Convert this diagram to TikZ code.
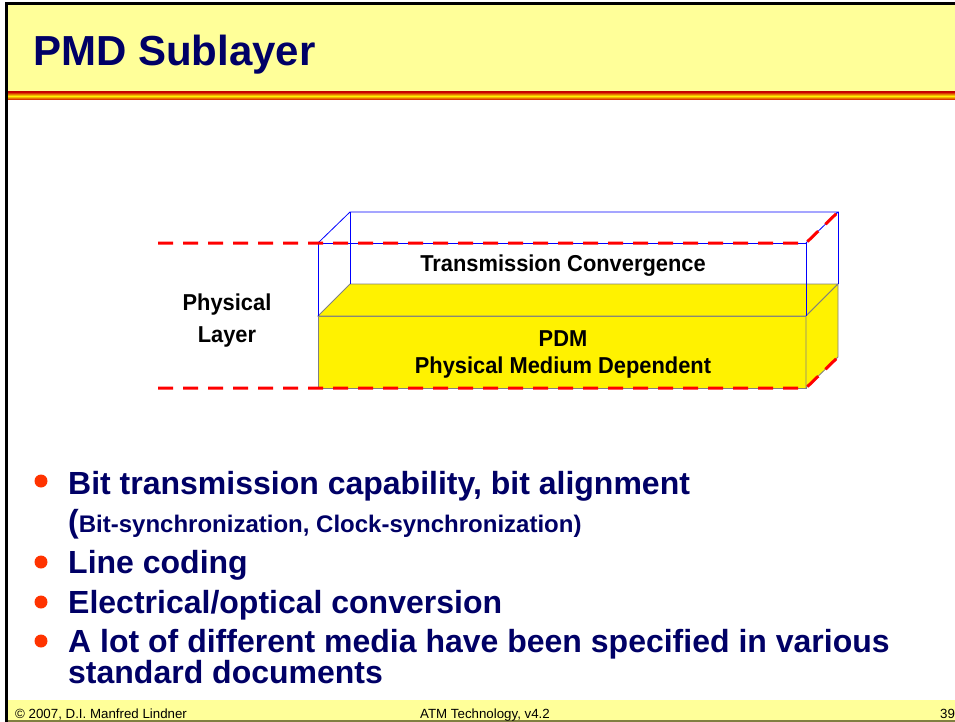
\documentclass[tikz,border=0pt]{standalone}
\usepackage{fontspec}
\setmainfont{Liberation Sans}
\newfontfamily\narrowfont[FakeStretch=0.95]{Liberation Sans}
\usetikzlibrary{positioning}
\definecolor{slideyellow}{HTML}{FFFF99}
\definecolor{titleblue}{HTML}{000066}
\definecolor{bulletred}{HTML}{FF3300}
\definecolor{footline}{HTML}{808040}
\newcommand{\ptsize}[1]{\fontsize{#1}{#1}\selectfont}

\begin{document}
\begin{tikzpicture}[x=1pt,y=-1pt]
  \tikzset{
    pointtext/.style={anchor=base west,inner sep=0pt,text=titleblue,font=\ptsize{32}\bfseries},
    bulletdot/.style={circle,fill=bulletred,minimum size=13pt,inner sep=0pt},
    boxtext/.style={align=center,anchor=base,inner sep=0pt,font=\narrowfont\bfseries\fontsize{23}{27}\selectfont},
    foottext/.style={anchor=base west,inner sep=0pt,font=\ptsize{13.3}},
    layerline/.style={red,line width=3pt,dash pattern=on 15pt off 10pt},
    tcedge/.style={blue,line width=0.8pt},
    pdmface/.style={fill=yellow,draw=gray,line width=0.8pt}
  }
  \useasboundingbox (0,0) rectangle (955,722);
  % slide frame
  \fill[slideyellow] (5,5) rectangle (955,92);
  \shade[top color=red!80!black,bottom color=red!80!black,middle color=yellow!90!orange] (5,92) rectangle (955,100);
  \fill[slideyellow] (5,700) rectangle (955,720);
  \draw[footline,line width=2pt] (5,721) -- (955,721);
  \draw[line width=3pt] (955,3.5) -- (6,3.5) -- (6,722);
  \node[anchor=base west,inner sep=0pt,text=titleblue,font=\ptsize{42}\bfseries] (title) at (33,66) {PMD Sublayer};

  % the two sublayers
  \coordinate (tcfl) at (318,243);
  \coordinate (tcfr) at (806,243);
  \coordinate (tcbl) at (350,212);
  \coordinate (tcbr) at (838,212);
  \coordinate (mfl) at (318,316);
  \coordinate (mfr) at (806,316);
  \coordinate (mbl) at (350,284);
  \coordinate (mbr) at (838,284);
  \coordinate (bfl) at (318,388);
  \coordinate (bfr) at (806,388);
  \coordinate (bbr) at (838,357);
  \draw[pdmface] (mfl) rectangle (bfr);
  \draw[pdmface] (mfl) -- (mbl) -- (mbr) -- (mfr) -- cycle;
  \draw[pdmface] (mfr) -- (mbr) -- (bbr) -- (bfr) -- cycle;
  \draw[tcedge] (mfl) -- (tcfl) -- (tcfr) -- (mfr);
  \draw[tcedge] (tcfl) -- (tcbl) -- (tcbr) -- (tcfr);
  \draw[tcedge] (tcbl) -- (mbl);
  \draw[tcedge] (tcbr) -- (mbr);
  \node[boxtext] (tc) at (563,271) {Transmission Convergence};
  \node[boxtext] (pdm) at (563,373) {PDM\\Physical Medium Dependent};
  \node[boxtext,font=\narrowfont\bfseries\fontsize{23}{32}\selectfont] (phys) at (227,342) {Physical\\Layer};

  % layer borders
  \coordinate (topstart) at (158,243);
  \coordinate (botstart) at (158,388);
  \draw[layerline] (topstart) -- (tcfr) -- (tcbr);
  \draw[layerline] (botstart) -- (bfr) -- (bbr);

  % bullet points
  \node[bulletdot] (d1) at (41,481) {};
  \node[bulletdot] (d2) at (41,562) {};
  \node[bulletdot] (d3) at (41,602) {};
  \node[bulletdot] (d4) at (41,641) {};
  \node[pointtext] (p1) at (68,494) {Bit transmission capability, bit alignment};
  \node[pointtext] (p1b) at (68,532) {(\ptsize{24}Bit-synchronization, Clock-synchronization)};
  \node[pointtext] (p2) at (68,573) {Line coding};
  \node[pointtext] (p3) at (68,613) {Electrical/optical conversion};
  \node[pointtext] (p4) at (68,652) {A lot of different media have been specified in various};
  \node[pointtext] (p4b) at (68,683) {standard documents};

  % footer
  \node[foottext] (copy) at (15,718) {\textcopyright{} 2007, D.I. Manfred Lindner};
  \node[foottext] (course) at (420,718) {ATM Technology, v4.2};
  \node[foottext] (page) at (940,718) {39};
\end{tikzpicture}
\end{document}
